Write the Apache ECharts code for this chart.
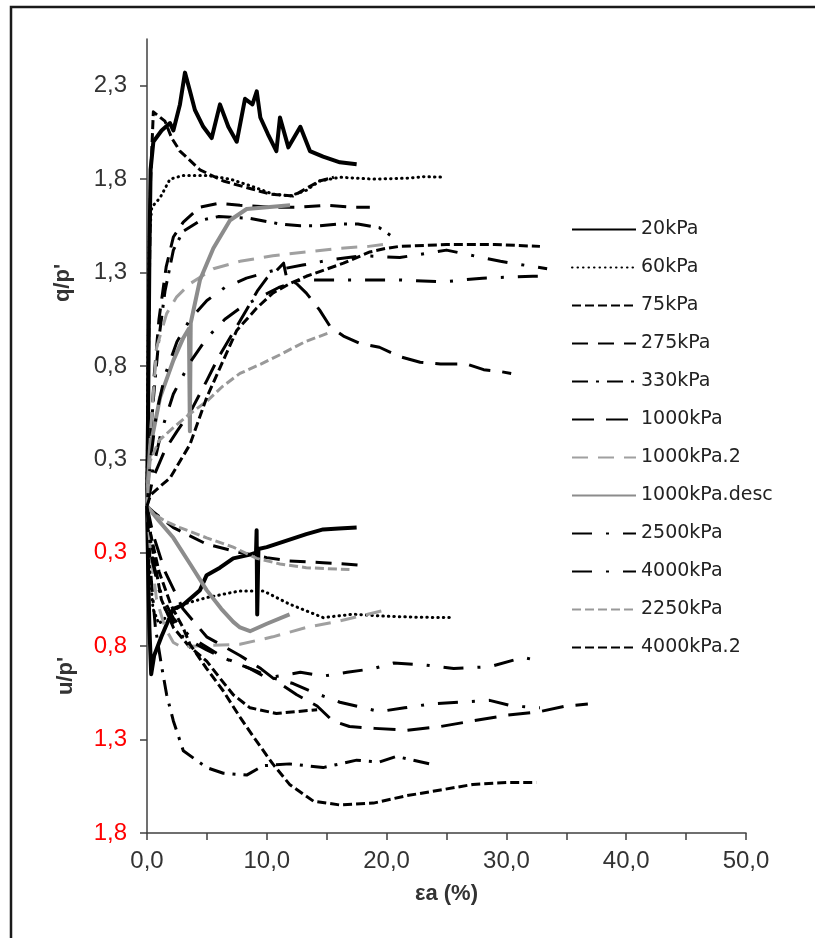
<!DOCTYPE html>
<html>
<head>
<meta charset="utf-8">
<script src="https://cdn.jsdelivr.net/npm/echarts@6/dist/echarts.min.js"></script>
<style>
  html, body { margin: 0; padding: 0; background: #fff; }
  #chart { width: 815px; height: 938px; }
</style>
</head>
<body>
<div id="chart"></div>
<script>
// strain εa (%) vs q/p' (upper branch) and u/p' (lower branch, red scale)
var q20 = [[0,0.05],[0.1,0.6],[0.2,1.4],[0.3,1.85],[0.53,2.0],[1.22,2.06],[1.92,2.1],[2.2,2.06],[2.75,2.2],[3.17,2.37],[3.59,2.27],[4.0,2.17],[4.7,2.08],[5.4,2.02],[6.09,2.2],[6.79,2.08],[7.49,2.0],[8.18,2.23],[8.8,2.2],[9.16,2.27],[9.46,2.13],[10.1,2.04],[10.8,1.95],[11.1,2.13],[11.8,1.97],[12.8,2.08],[13.6,1.95],[14.7,1.92],[16.1,1.89],[17.5,1.88]];
var u20 = [[0,0.05],[0.1,0.4],[0.2,0.7],[0.35,0.95],[0.6,0.85],[1.2,0.75],[2.2,0.6],[3.0,0.58],[4.42,0.5],[4.98,0.42],[6.09,0.38],[7.2,0.33],[8.6,0.31],[9.1,0.3],[9.15,0.18],[9.2,0.63],[9.3,0.28],[10.0,0.27],[11.4,0.24],[13.3,0.2],[14.7,0.175],[16,0.17],[17.5,0.165]];

var q60 = [[0,0.05],[0.1,0.9],[0.2,1.5],[0.4,1.65],[1.09,1.7],[1.92,1.8],[3.03,1.82],[4.98,1.82],[6.93,1.8],[8.6,1.765],[10.5,1.72],[11.94,1.71],[13.3,1.74],[14.4,1.79],[16.1,1.81],[18.9,1.8],[21.7,1.805],[23.1,1.813],[24.9,1.81]];
var u60 = [[0,0.05],[0.2,0.35],[0.5,0.6],[1.0,0.68],[2.0,0.62],[3.03,0.575],[4.98,0.54],[7.76,0.504],[9.7,0.504],[11.9,0.575],[14.7,0.647],[17.2,0.629],[20,0.64],[22.5,0.645],[25.3,0.647]];

var q75 = [[0,0.05],[0.15,1.0],[0.3,1.8],[0.53,2.16],[1.5,2.11],[2.06,2.02],[2.75,1.95],[4.42,1.85],[6.37,1.79],[8.6,1.75],[10.27,1.72],[12.2,1.71],[13.3,1.75],[14.4,1.79],[15.6,1.81]];
var u75 = [[0,0.05],[0.5,0.3],[1.2,0.55],[2.2,0.7],[3.5,0.8],[4.98,0.88],[6.2,0.98],[7.2,1.06],[8.6,1.13],[10.8,1.16],[12.5,1.15],[14.2,1.14]];

var q275 = [[0,0.05],[0.3,0.4],[0.6,0.75],[1.0,1.05],[1.6,1.33],[2.2,1.49],[3.03,1.57],[4.42,1.65],[5.95,1.67],[7.76,1.66],[10.5,1.65],[12.8,1.65],[15.0,1.66],[17.2,1.65],[18.6,1.65]];
var u275 = [[0,0.05],[0.5,0.08],[2.2,0.165],[4.98,0.254],[7.76,0.299],[10.0,0.326],[11.9,0.344],[14.7,0.353],[16.5,0.36],[18.3,0.37]];

var q330 = [[0,0.05],[0.2,0.3],[0.5,0.6],[1.0,0.95],[1.5,1.2],[2.2,1.42],[3.0,1.52],[4.5,1.58],[6.0,1.6],[8.6,1.59],[11.1,1.56],[12.8,1.55],[14.4,1.55],[16.1,1.56],[17.6,1.56],[19.4,1.54],[20.3,1.5]];
var u330 = [[0,0.05],[0.3,0.4],[0.7,0.7],[1.2,0.9],[1.64,1.06],[2.2,1.2],[3.03,1.36],[4.98,1.45],[6.37,1.48],[8.32,1.49],[9.7,1.44],[11.9,1.43],[14.7,1.45],[17.5,1.41],[19.4,1.42],[20.8,1.39],[23.6,1.43]];

var q1000 = [[0,0.05],[0.5,0.2],[1.5,0.35],[2.5,0.45],[3.59,0.55],[4.98,0.72],[6.0,0.85],[7.2,0.98],[8.3,1.1],[9.2,1.2],[10.0,1.27],[10.8,1.31],[11.4,1.35],[11.66,1.27],[12.5,1.24],[13.3,1.19],[14.4,1.1],[15.3,1.01],[16.4,0.96],[17.8,0.92],[19.4,0.9],[21.1,0.85],[22.8,0.82],[24.5,0.81],[26.7,0.81],[28.1,0.78],[29.5,0.77],[30.4,0.76]];
var u1000 = [[0,0.05],[0.5,0.2],[1.5,0.4],[3,0.6],[4.98,0.75],[7.76,0.85],[9.5,0.92],[11.1,1.0],[12.5,1.06],[14.2,1.12],[15.5,1.2],[16.9,1.23],[19,1.24],[21.7,1.25],[24.5,1.23],[27.2,1.2],[30,1.17],[32.8,1.15],[35,1.12],[36.8,1.11]];

var q1000b = [[0,0.05],[0.3,0.45],[0.81,0.9],[1.64,1.08],[2.48,1.17],[3.59,1.24],[5.54,1.32],[7.76,1.36],[10.5,1.39],[13.3,1.41],[16.1,1.43],[18.5,1.44],[19.7,1.45]];
var u1000b = [[0,0.05],[0.3,0.3],[0.8,0.55],[1.5,0.7],[2.2,0.78],[3.03,0.81],[3.6,0.8],[7.76,0.79],[10.5,0.75],[13.3,0.7],[16.1,0.665],[20.3,0.6]];

var qDesc = [[0,0.05],[0.1,0.2],[0.25,0.36],[1.09,0.63],[2.2,0.83],[3.03,0.95],[3.5,1.0],[3.58,0.45],[3.65,1.03],[4.42,1.26],[5.54,1.43],[6.93,1.58],[8.32,1.64],[10,1.65],[11.94,1.66]];
var uDesc = [[0,0.05],[1,0.13],[2.2,0.22],[3.6,0.36],[4.98,0.5],[6.2,0.6],[7.2,0.67],[7.76,0.7],[8.6,0.72],[10.0,0.68],[11.9,0.63]];

var q2500 = [[0,0.05],[0.3,0.3],[0.8,0.55],[1.5,0.75],[2.5,0.93],[3.6,1.05],[5,1.15],[6.5,1.22],[8.3,1.27],[10.5,1.31],[13,1.34],[15.5,1.37],[18,1.39],[21.1,1.38],[25,1.42],[29.5,1.36],[33.4,1.32]];
var u2500 = [[0,0.05],[0.3,0.3],[1,0.5],[2.2,0.65],[3.59,0.75],[6.37,0.86],[8.6,0.92],[10.0,0.97],[12.8,0.94],[14.7,0.96],[16.7,0.94],[18.9,0.92],[20.6,0.89],[23.1,0.9],[25.6,0.92],[28.6,0.91],[31.4,0.86],[32.8,0.88]];

var q4000 = [[0,0.05],[0.5,0.25],[1.2,0.45],[2.2,0.65],[3.6,0.82],[5,0.95],[6.5,1.05],[8,1.12],[9.5,1.17],[11,1.22],[12.8,1.26],[15,1.26],[18,1.26],[21.1,1.26],[24.7,1.25],[28,1.27],[32.2,1.28],[33.5,1.28]];
var u4000 = [[0,0.05],[0.5,0.35],[1.5,0.6],[3,0.75],[4.98,0.82],[7,0.88],[9,0.93],[10.5,0.97],[12.2,1.0],[14,1.05],[16.1,1.1],[19.4,1.15],[21.5,1.13],[23.6,1.11],[26,1.1],[28.6,1.09],[30.5,1.12],[32.8,1.13]];

var q2250 = [[0,0.05],[0.25,0.29],[1.0,0.4],[2.2,0.47],[3.5,0.54],[4.98,0.61],[6.3,0.69],[7.76,0.76],[9.5,0.81],[11.1,0.86],[13.2,0.93],[15.3,0.98]];
var u2250 = [[0,0.05],[0.5,0.09],[1.5,0.13],[2.75,0.165],[4.98,0.22],[7.2,0.27],[9.16,0.33],[11.1,0.36],[13.3,0.38],[16.9,0.39]];

var q4000b = [[0,0.05],[0.3,0.11],[1.0,0.15],[1.92,0.2],[3.59,0.38],[4.98,0.63],[6.09,0.79],[7.49,0.99],[9.16,1.11],[10.5,1.19],[11.9,1.24],[13.3,1.28],[16.4,1.35],[18.6,1.41],[20.0,1.43],[21.1,1.44],[25,1.45],[29,1.45],[32.8,1.44]];
var u4000b = [[0,0.05],[0.3,0.2],[1,0.4],[2,0.58],[3,0.7],[3.59,0.79],[4.98,0.92],[6.37,1.04],[7.76,1.18],[9.16,1.31],[10.5,1.43],[11.9,1.54],[13.9,1.63],[16.1,1.65],[18.9,1.64],[21.7,1.6],[24.5,1.57],[27.2,1.54],[30.0,1.53],[32.5,1.53]];

// y tick positions (axis units) ; lower ones carry the u/p' labels
var yTicks = [-1.7, -1.2, -0.7, -0.2, 0.3, 0.8, 1.3, 1.8, 2.3];
var U_ZERO = 0.1; // axis value where the red u/p' scale reads 0

var tests = [
  { name: '20kPa',        q: q20,    u: u20,    color: '#000000', width: 4,   dash: 'solid' },
  { name: '60kPa',        q: q60,    u: u60,    color: '#000000', width: 3,   dash: [0.5, 5], cap: 'round' },
  { name: '75kPa',        q: q75,    u: u75,    color: '#000000', width: 3,   dash: [9, 4] },
  { name: '275kPa',       q: q275,   u: u275,   color: '#000000', width: 3,   dash: [16, 10] },
  { name: '330kPa',       q: q330,   u: u330,   color: '#000000', width: 3,   dash: [16, 8, 3, 8] },
  { name: '1000kPa',      q: q1000,  u: u1000,  color: '#000000', width: 3,   dash: [22, 12] },
  { name: '1000kPa.2',    q: q1000b, u: u1000b, color: '#a0a0a0', width: 3,   dash: [16, 10] },
  { name: '1000kPa.desc', q: qDesc,  u: uDesc,  color: '#8c8c8c', width: 4,   dash: 'solid' },
  { name: '2500kPa',      q: q2500,  u: u2500,  color: '#000000', width: 3,   dash: [20, 14, 3, 14] },
  { name: '4000kPa',      q: q4000,  u: u4000,  color: '#000000', width: 3,   dash: [20, 14, 3, 14] },
  { name: '2250kPa',      q: q2250,  u: u2250,  color: '#999999', width: 3,   dash: [9, 4] },
  { name: '4000kPa.2',    q: q4000b, u: u4000b, color: '#000000', width: 3,   dash: [9, 4] }
];

var series = [];
tests.forEach(function (t) {
  var style = { color: t.color, width: t.width, type: t.dash, cap: t.cap || 'butt', join: 'round' };
  series.push({
    name: t.name, type: 'line', data: t.q,
    symbol: 'none', showSymbol: false, silent: true,
    lineStyle: style, itemStyle: { color: t.color }
  });
  series.push({
    name: t.name, type: 'line',
    data: t.u.map(function (p) { return [p[0], U_ZERO - p[1]]; }),
    symbol: 'none', showSymbol: false, silent: true,
    lineStyle: style, itemStyle: { color: t.color }
  });
});

var chart = echarts.init(document.getElementById('chart'));
var option = {
  animation: false,
  backgroundColor: '#fff',
  grid: { left: 147, right: 69, top: 39, bottom: 105 },
  legend: {
    data: tests.map(function (t) { return t.name; }),
    orient: 'vertical',
    left: 566,
    top: 215,
    itemWidth: 64,
    itemHeight: 14,
    itemGap: 19,
    selectedMode: false,
    itemStyle: { opacity: 0 },
    textStyle: { fontFamily: 'DejaVu Sans', fontSize: 19, color: '#222' }
  },
  xAxis: {
    type: 'value',
    min: 0, max: 50, interval: 5,
    name: 'εa (%)',
    nameLocation: 'middle',
    nameGap: 50,
    nameTextStyle: { fontFamily: 'Liberation Sans', fontSize: 22, fontWeight: 'bold', color: '#333' },
    axisLine: { onZero: false, lineStyle: { color: '#404040', width: 1.5 } },
    axisTick: { show: true, length: 7, lineStyle: { color: '#404040', width: 1.5 } },
    axisLabel: {
      margin: 16,
      fontFamily: 'Liberation Sans', fontSize: 24, color: '#333',
      formatter: function (v) { return v % 10 === 0 ? v.toFixed(1).replace('.', ',') : ''; }
    },
    splitLine: { show: false }
  },
  yAxis: {
    type: 'value',
    min: -1.7, max: 2.55,
    axisLine: { show: true, lineStyle: { color: '#404040', width: 1.5 } },
    axisTick: { show: true, length: 7, customValues: yTicks, lineStyle: { color: '#404040', width: 1.5 } },
    axisLabel: {
      customValues: yTicks,
      margin: 20,
      fontFamily: 'Liberation Sans', fontSize: 24,
      color: function (v) { return parseFloat(v) < 0 ? '#ff0000' : '#333'; },
      formatter: function (v) {
        var shown = v > 0 ? v : U_ZERO - v;
        return shown.toFixed(1).replace('.', ',');
      }
    },
    splitLine: { show: false }
  },
  graphic: [
    { type: 'rect', silent: true, z: -1, shape: { x: 11, y: 7, width: 830, height: 960 },
      style: { fill: null, stroke: '#1a1a1a', lineWidth: 2.5 } },
    { type: 'text', x: 63, y: 283, rotation: Math.PI / 2, silent: true,
      style: { text: "q/p'", fontFamily: 'Liberation Sans', fontSize: 22, fontWeight: 'bold', fill: '#333', align: 'center', verticalAlign: 'middle' } },
    { type: 'text', x: 66, y: 676, rotation: Math.PI / 2, silent: true,
      style: { text: "u/p'", fontFamily: 'Liberation Sans', fontSize: 22, fontWeight: 'bold', fill: '#333', align: 'center', verticalAlign: 'middle' } }
  ],
  series: series
};
chart.setOption(option);
</script>
</body>
</html>
